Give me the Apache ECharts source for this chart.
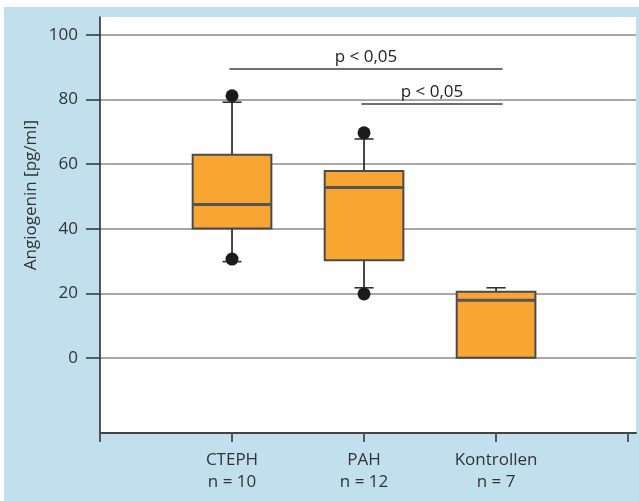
<!DOCTYPE html>
<html>
<head>
<meta charset="utf-8">
<script src="https://cdn.jsdelivr.net/npm/echarts@6/dist/echarts.min.js"></script>
<style>html,body{margin:0;padding:0;background:#fff}#c{width:639px;height:501px}</style>
</head>
<body>
<div id="c"></div>
<script>
// ---- data ----
const categories = ['CTEPH', 'PAH', 'Kontrollen'];
const groupSizes = ['n = 10', 'n = 12', 'n = 7'];
const groupPos = [1, 2, 3];
// [lower whisker, Q1, median, Q3, upper whisker]
const boxValues = [
  [29.8, 40.1, 47.5, 62.9, 79.2],
  [21.7, 30.2, 52.8, 57.9, 67.8],
  [0, 0, 17.8, 20.5, 21.7]
];
// outlier dots [group position, value]
const outliers = [[1, 81.2], [1, 30.6], [2, 69.7], [2, 19.8]];
const yTicks = [0, 20, 40, 60, 80, 100];
const xTicks = [0, 1, 2, 3, 4];
// significance brackets: [x start, x end, y level, label]
const brackets = [
  [0.98, 3.05, 89.5, 'p < 0,05'],
  [1.98, 3.05, 78.6, 'p < 0,05']
];
const yAxisTitle = 'Angiogenin [pg/ml]';

// ---- chart ----
const FONT = 'Open Sans';
const FS = 17;
const chart = echarts.init(document.getElementById('c'), null, {renderer: 'canvas'});
const boxData = boxValues.map((v, i) => [groupPos[i]].concat(v));

chart.setOption({
  animation: false,
  backgroundColor: '#ffffff',
  textStyle: {fontFamily: FONT},
  graphic: [
    {type: 'rect', z: -10, silent: true, shape: {x: 4, y: 7, width: 640, height: 500}, style: {fill: '#c2dfee'}},
    {type: 'text', x: 31, y: 195, rotation: Math.PI / 2, z: 10,
     style: {text: yAxisTitle, fontFamily: FONT, fontSize: FS, fill: '#333', textAlign: 'center', textVerticalAlign: 'middle'}}
  ],
  grid: {left: 100, top: 17, right: 3, bottom: 68, show: true, backgroundColor: '#ffffff', borderWidth: 0, z: 0},
  xAxis: {
    type: 'value', min: 0, max: 4.06,
    axisLine: {show: true, onZero: false, lineStyle: {color: '#444', width: 2}},
    axisTick: {show: true, customValues: xTicks, length: 9, lineStyle: {color: '#555', width: 2}},
    axisLabel: {
      customValues: groupPos, margin: 16, fontSize: FS, lineHeight: 22, color: '#333', fontFamily: FONT,
      formatter: v => { const i = groupPos.indexOf(Math.round(v)); return i >= 0 ? categories[i] + '\n' + groupSizes[i] : ''; }
    },
    splitLine: {show: false}
  },
  yAxis: {
    type: 'value', min: -23.3, max: 105.6,
    axisLine: {show: true, onZero: false, lineStyle: {color: '#222', width: 1.5}},
    axisTick: {show: true, customValues: yTicks, length: 14, lineStyle: {color: '#333', width: 1.5}},
    axisLabel: {customValues: yTicks, margin: 22, fontSize: FS, color: '#333', fontFamily: FONT},
    splitLine: {show: true, lineStyle: {color: '#a8a8a8', width: 2}}
  },
  series: [
    {
      type: 'custom', z: 3,
      data: boxData,
      encode: {x: 0, y: [1, 2, 3, 4, 5]},
      renderItem: function (params, api) {
        const x = api.value(0);
        const pt = k => api.coord([x, api.value(k)]);
        const lo = pt(1), q1 = pt(2), med = pt(3), q3 = pt(4), hi = pt(5);
        const bw = api.size([0.596, 0])[0];
        const cw = api.size([0.145, 0])[0];
        const cx = lo[0];
        const children = [];
        const ln = (x1, y1, x2, y2, w, c) => ({type: 'line', shape: {x1, y1, x2, y2}, style: {stroke: c, lineWidth: w}});
        if (Math.abs(hi[1] - q3[1]) > 0.5) {
          children.push(ln(cx, hi[1], cx, q3[1], 1.6, '#1a1a1a'));
        }
        children.push(ln(cx - cw / 2, hi[1], cx + cw / 2, hi[1], 1.6, '#333'));
        if (Math.abs(lo[1] - q1[1]) > 0.5) {
          children.push(ln(cx, q1[1], cx, lo[1], 1.6, '#1a1a1a'));
          children.push(ln(cx - cw / 2, lo[1], cx + cw / 2, lo[1], 1.6, '#333'));
        }
        children.push({type: 'rect', shape: {x: cx - bw / 2, y: q3[1], width: bw, height: q1[1] - q3[1]},
                       style: {fill: '#f8a532', stroke: '#4a4a4a', lineWidth: 2}});
        children.push(ln(cx - bw / 2, med[1], cx + bw / 2, med[1], 3, '#555'));
        return {type: 'group', children};
      }
    },
    {
      type: 'scatter', z: 4,
      data: outliers,
      symbol: 'circle', symbolSize: 13,
      itemStyle: {color: '#1c1a1a', opacity: 1}
    },
    {
      type: 'line', z: 2, data: [],
      markLine: {
        silent: true, symbol: ['none', 'none'],
        lineStyle: {color: '#6f6f6f', width: 2, type: 'solid'},
        label: {show: true, position: 'middle', distance: 3, fontSize: FS, color: '#222', fontFamily: FONT, formatter: p => p.data.name || ''},
        data: brackets.map(b => [{coord: [b[0], b[2]], name: b[3]}, {coord: [b[1], b[2]]}])
      }
    }
  ]
});
</script>
</body>
</html>
